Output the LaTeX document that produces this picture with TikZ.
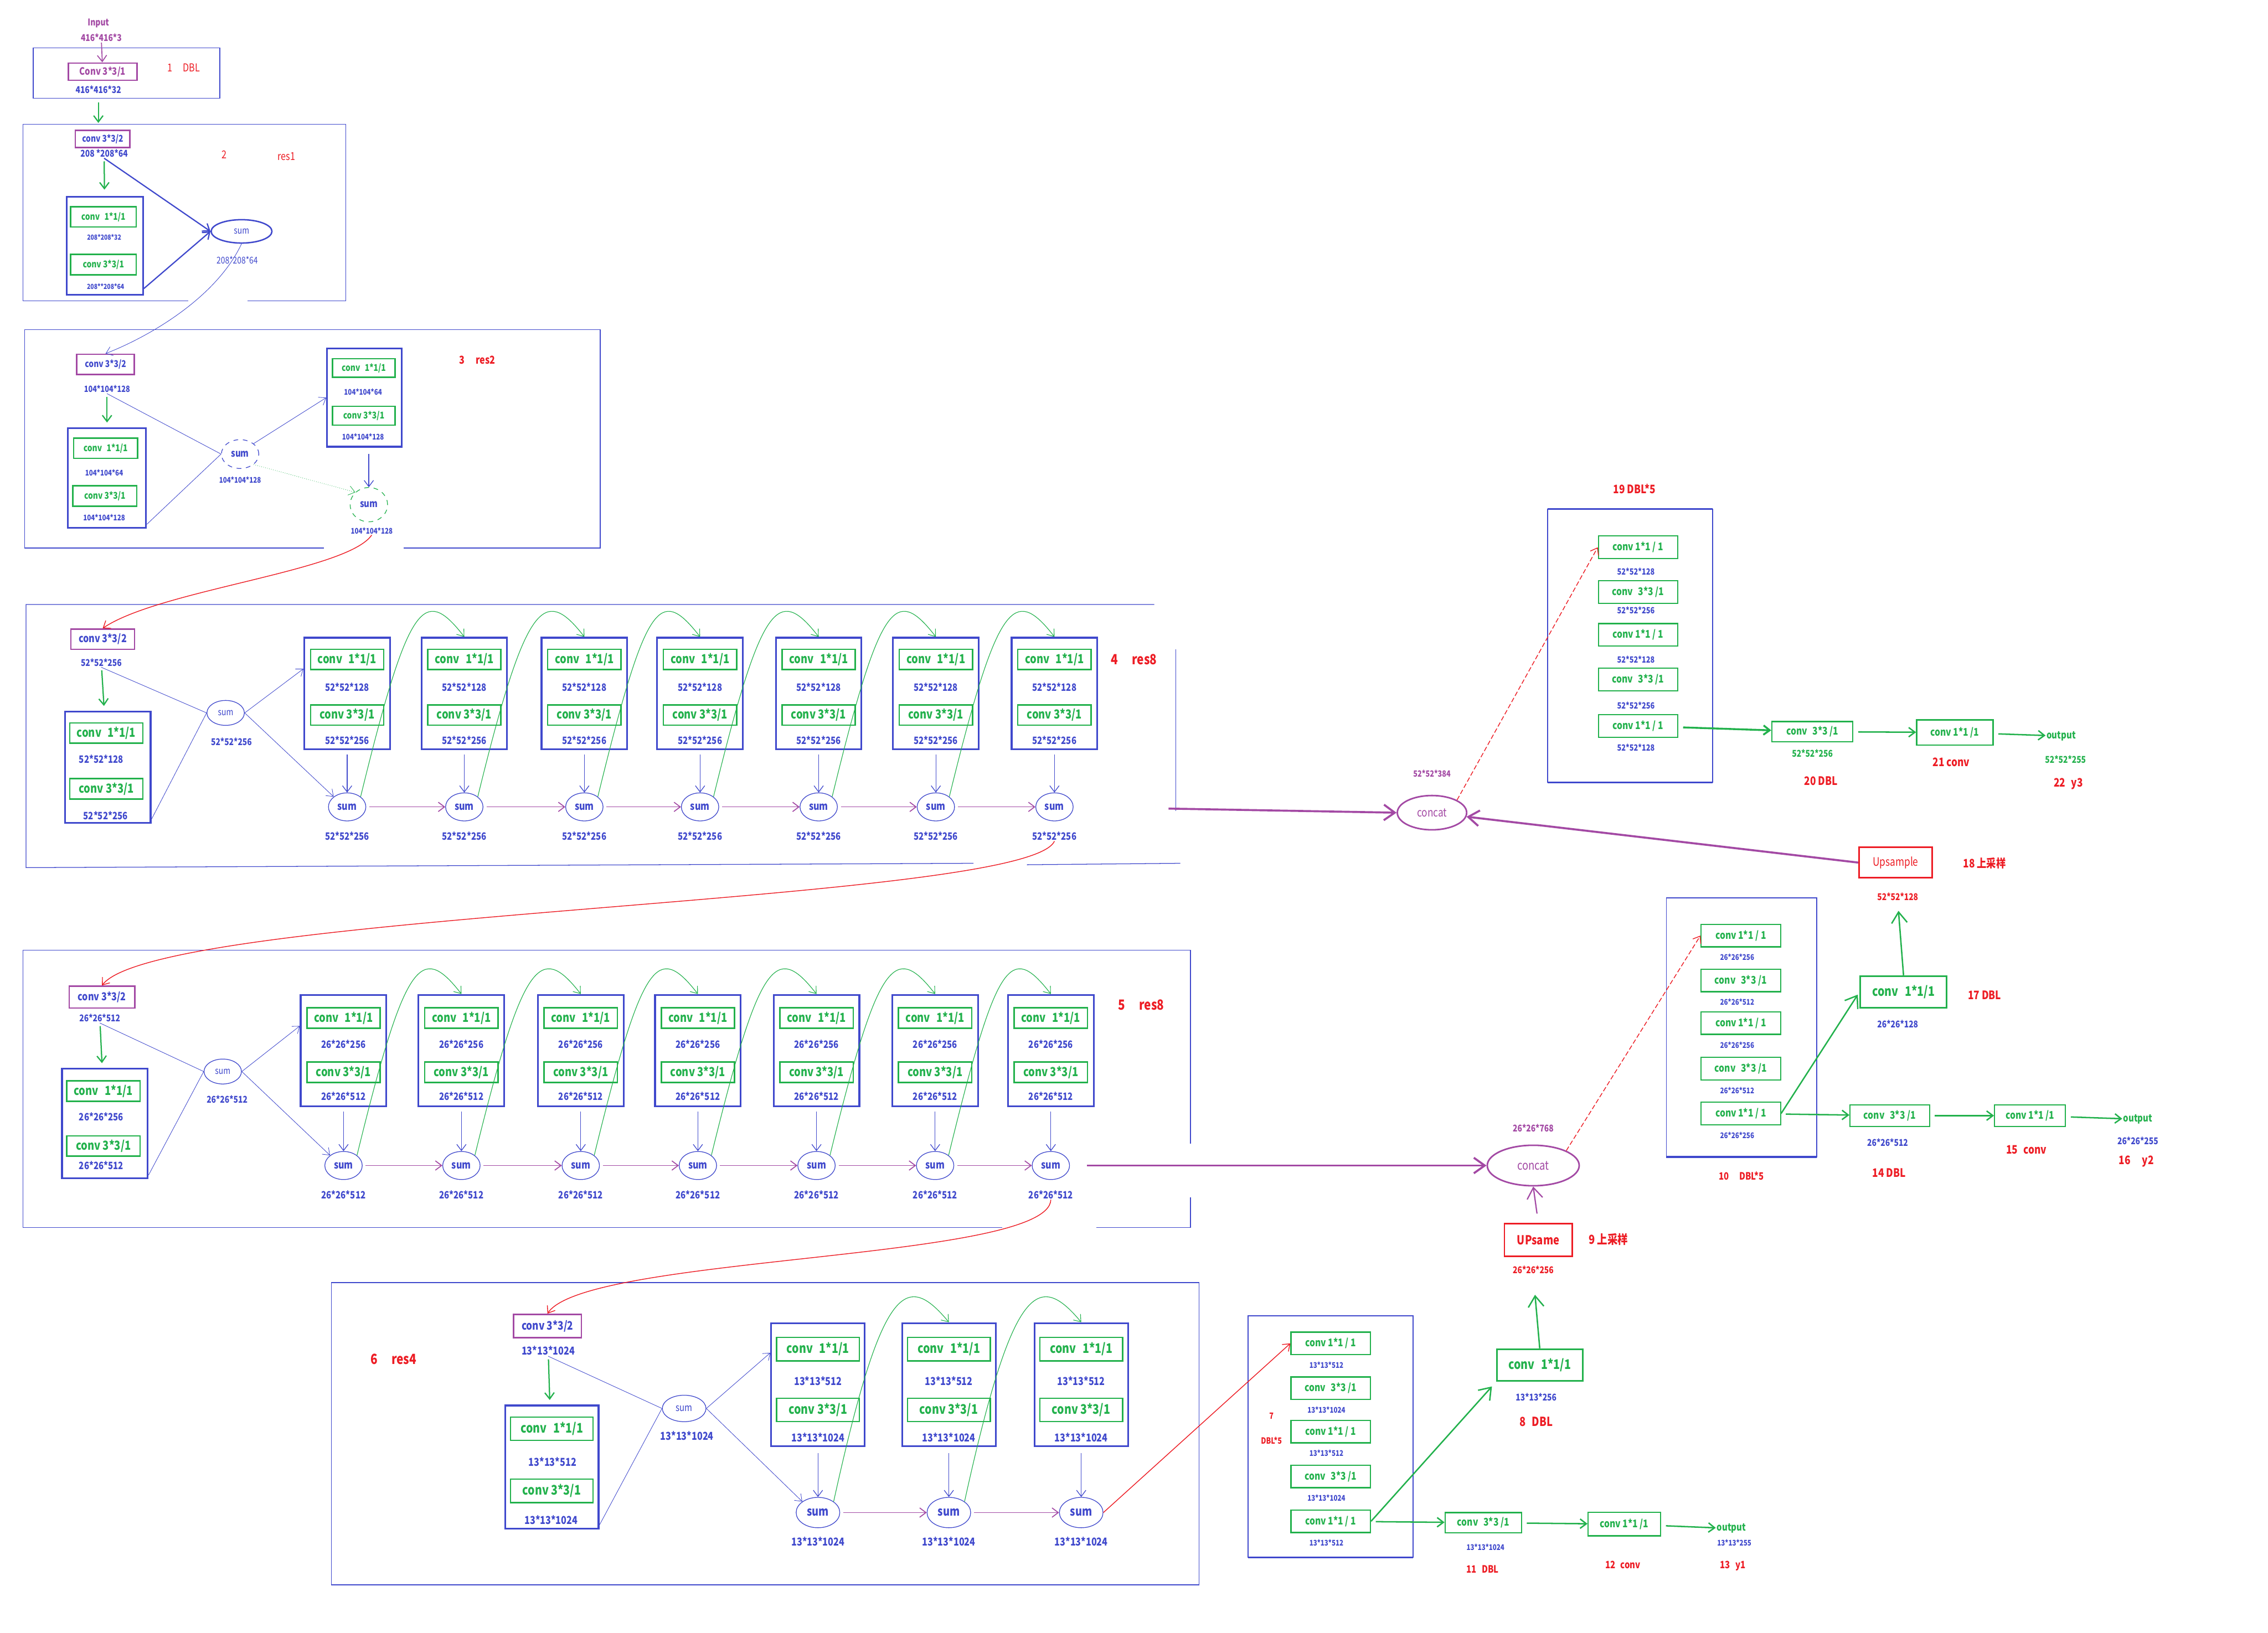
\documentclass[tikz,border=0pt]{standalone}
\usepackage{fontspec}
\setmainfont{Noto Sans CJK SC}[FakeStretch=0.82]
\usetikzlibrary{positioning,calc,arrows.meta,shapes.geometric}
\definecolor{PaintBlue}{RGB}{63,72,204}
\definecolor{PaintGreen}{RGB}{34,177,76}
\definecolor{PaintPurple}{RGB}{163,73,164}
\definecolor{PaintRed}{RGB}{237,28,36}
\tikzset{
  bsize/.style={font=\bfseries\fontsize{#1}{#1}\selectfont},
  rsize/.style={font=\fontsize{#1}{#1}\selectfont},
  groupframe/.style={draw=PaintBlue,line width=0.45pt},
  resunit/.style={draw=PaintBlue,line width=1.1pt,minimum width=55pt,minimum height=71.5pt},
  convbox/.style={draw=PaintGreen,line width=0.9pt,text=PaintGreen,inner sep=0pt,bsize=8,
    minimum width=47pt,minimum height=13pt},
  dblconv/.style={draw=PaintGreen,line width=0.8pt,text=PaintGreen,inner sep=0pt,bsize=6.8,
    minimum width=51pt,minimum height=14.5pt},
  downbox/.style={draw=PaintPurple,line width=0.9pt,text=PaintBlue,inner sep=0pt,bsize=7,
    minimum width=41pt,minimum height=13pt},
  upbox/.style={draw=PaintRed,line width=1pt,text=PaintRed,inner sep=0pt},
  sumnode/.style={ellipse,draw=PaintBlue,line width=0.45pt,text=PaintBlue,inner sep=0pt,
    bsize=7,minimum width=24pt,minimum height=17pt},
  catnode/.style={ellipse,draw=PaintPurple,line width=1pt,text=PaintPurple,inner sep=0pt,rsize=8},
  dimtxt/.style={text=PaintBlue,bsize=6.5,inner sep=0.5pt},
  tagtxt/.style={text=PaintRed,bsize=9,inner sep=0.5pt},
  barb/.style={-{Straight Barb[length=4pt,width=6pt]}},
  bigbarb/.style={-{Straight Barb[length=7pt,width=10pt]}},
  blueedge/.style={draw=PaintBlue,line width=0.45pt},
  greenedge/.style={draw=PaintGreen,line width=0.4pt},
  thickgreen/.style={draw=PaintGreen,line width=0.9pt},
  purpleedge/.style={draw=PaintPurple,line width=0.6pt},
  rededge/.style={draw=PaintRed,line width=0.5pt},
}

\begin{document}
\begin{tikzpicture}[x=0.03263cm,y=-0.03263cm]
\fill[white] (0,0) rectangle (1568,1129);
\useasboundingbox (0,0) rectangle (1568,1129);

% 1 DBL
\node[dimtxt,text=PaintPurple,bsize=6] (inname) at (68,16) {Input};
\node[dimtxt,text=PaintPurple,bsize=6] (insize) at (70,26) {416*416*3};
\draw[groupframe] (23,33) rectangle (152,68);
\node[downbox,text=PaintPurple,bsize=6.5,minimum width=44pt,minimum height=11pt] (conv1) at (71,49.5) {Conv 3*3/1};
\node[tagtxt,rsize=7] (tag1) at (127,47) {1\quad DBL};
\node[dimtxt,bsize=6] (dim1) at (68,62) {416*416*32};
\draw[purpleedge,barb] (insize) -- (conv1);
\coordinate (g1a) at (68,71);
\coordinate (g1b) at (68,85);
\draw[greenedge,line width=0.8pt,barb] (g1a) -- (g1b);

% 2 res1
\draw[groupframe] (130,208) -- (16,208) -- (16,86) -- (239,86) -- (239,208) -- (171,208);
\node[downbox,bsize=6,minimum width=35pt,minimum height=11pt] (conv2) at (71,96) {conv 3*3/2};
\node[dimtxt,bsize=6] (dim2) at (72,106) {208 *208*64};
\node[tagtxt,rsize=7] (tag2a) at (155,107) {2};
\node[tagtxt,rsize=7] (tag2b) at (198,108) {res1};
\node[resunit,minimum width=49pt,minimum height=63pt] (u2) at (72.5,170) {};
\node[convbox,bsize=6,minimum width=42pt] (u2a) at (71.5,150) {conv\enspace 1*1/1};
\node[dimtxt,bsize=4.5] (u2ad) at (72,164) {208*208*32};
\node[convbox,bsize=6,minimum width=42pt] (u2b) at (71.5,183) {conv 3*3/1};
\node[dimtxt,bsize=4.5] (u2bd) at (73,198) {208**208*64};
\node[sumnode,line width=0.9pt,rsize=6,minimum width=39pt,minimum height=15pt] (s2) at (167,160) {sum};
\node[dimtxt,rsize=6] (s2d) at (164,180) {208*208*64};
\draw[greenedge,line width=0.8pt,barb,shorten <=2pt,shorten >=4pt] (dim2) -- (u2);
\draw[blueedge,line width=0.8pt,barb] (dim2.south) -- (s2.west);
\draw[blueedge,line width=0.8pt,barb] ($(u2.south east)+(0,-5)$) -- (s2.west);

% 3 res2
\draw[groupframe] (224,379) -- (17,379) -- (17,228) -- (415,228) -- (415,379) -- (279,379);
\node[downbox,bsize=6,minimum width=37pt] (conv3) at (73,252) {conv 3*3/2};
\node[dimtxt,bsize=5.5] (dim3) at (74,269) {104*104*128};
\node[resunit,minimum width=50pt,minimum height=64pt] (u3) at (74,330.5) {};
\node[convbox,bsize=6,minimum width=41pt] (u3a) at (73,310) {conv\enspace 1*1/1};
\node[dimtxt,bsize=5] (u3ad) at (72,327) {104*104*64};
\node[convbox,bsize=6,minimum width=41pt] (u3b) at (72.5,343) {conv 3*3/1};
\node[dimtxt,bsize=5] (u3bd) at (72,358) {104*104*128};
\node[sumnode,dashed,bsize=6.5,minimum width=24pt,minimum height=18.5pt] (s3a) at (166,314) {sum};
\node[dimtxt,bsize=5] (s3ad) at (166,332) {104*104*128};
\node[resunit,minimum width=48pt,minimum height=63pt] (v3) at (252,275) {};
\node[convbox,bsize=6,minimum width=40pt,minimum height=12pt] (v3a) at (251.5,254.5) {conv\enspace 1*1/1};
\node[dimtxt,bsize=5] (v3ad) at (251,271) {104*104*64};
\node[convbox,bsize=6,minimum width=40pt,minimum height=12pt] (v3b) at (251.5,287.5) {conv 3*3/1};
\node[dimtxt,bsize=5] (v3bd) at (251,302) {104*104*128};
\node[sumnode,dashed,draw=PaintGreen,bsize=6.5,minimum width=24pt,minimum height=22pt] (s3b) at (255,349) {sum};
\node[dimtxt,bsize=5] (s3bd) at (257,367) {104*104*128};
\node[tagtxt,bsize=7] (tag3) at (330,249) {3\quad res2};
\draw[greenedge,line width=0.8pt,barb,shorten <=2pt,shorten >=3pt] (dim3) -- (u3);
\draw[blueedge,line width=0.3pt] (dim3.south) -- (s3a.west);
\draw[blueedge,line width=0.3pt] ($(u3.south east)+(0,-3)$) -- (s3a.west);
\draw[blueedge,line width=0.3pt,barb] (s3a.north east) -- (v3.west);
\draw[greenedge,line width=0.3pt,densely dotted,barb] (s3a.south east) -- (s3b.north west);
\draw[blueedge,barb,shorten <=4pt] (s3b.north |- v3.south) -- (s3b.north);
\draw[blueedge,line width=0.3pt,barb] (s2.south) .. controls (150,205) and (105,232) .. (conv3.north);

% 4 res8, 52*52
\draw[groupframe] (798,418) -- (18,418) -- (18,600) -- (673,597);
\draw[groupframe] (710,598) -- (816,597);
\draw[groupframe] (813,449) -- (813,561);
\node[downbox] (conv4) at (71,442) {conv 3*3/2};
\node[dimtxt,bsize=6] (dim4) at (70,458) {52*52*256};
\node[resunit] (u4) at (74.5,530.5) {};
\node[convbox] (u4a) at (73.5,507) {conv\enspace 1*1/1};
\node[dimtxt] (u4ad) at (70,525) {52*52*128};
\node[convbox] (u4b) at (73.5,545.5) {conv 3*3/1};
\node[dimtxt] (u4bd) at (73,564) {52*52*256};
\node[sumnode,rsize=6,minimum height=16pt] (s4-0) at (156,493) {sum};
\node[dimtxt,bsize=6] (d4-0) at (160,513) {52*52*256};
\node[tagtxt] (tag4) at (784,456) {4\quad res8};
\foreach \i/\x in {1/240,2/321,3/404,4/484,5/566,6/647,7/729}{
  \node[resunit] (b4-\i) at (\x,479.5) {};
  \node[convbox] (b4a-\i) at (\x,456) {conv\enspace 1*1/1};
  \node[dimtxt] (b4ad-\i) at (\x,475) {52*52*128};
  \node[convbox] (b4b-\i) at (\x,494.5) {conv 3*3/1};
  \node[dimtxt] (b4bd-\i) at (\x,512) {52*52*256};
  \node[sumnode,minimum height=18pt] (s4-\i) at (\x,558) {sum};
  \node[dimtxt] (d4-\i) at (\x,578) {52*52*256};
  \draw[blueedge,barb,shorten <=3pt] (b4-\i) -- (s4-\i);
}
\draw[greenedge,line width=0.8pt,barb,shorten <=2pt,shorten >=3pt] (dim4) -- (u4);
\draw[blueedge,line width=0.3pt] (dim4.south) -- (s4-0.west);
\draw[blueedge,line width=0.3pt] ($(u4.south east)+(0,-3)$) -- (s4-0.west);
\draw[blueedge,line width=0.3pt,barb] (s4-0.east) -- ($(b4-1.west)+(0,-17)$);
\draw[blueedge,line width=0.3pt,barb] (s4-0.east) -- (s4-1.north west);
\foreach \i [evaluate=\i as \j using int(\i+1)] in {1,...,6}{
  \draw[purpleedge,barb,shorten <=2pt] (s4-\i) -- (s4-\j);
  \draw[greenedge,barb] (s4-\i.north east) .. controls +(33,-135) and +(-28,-36) .. (b4-\j.north);
}

% 5 res8, 26*26
\draw[groupframe] (693,849) -- (16,849) -- (16,657) -- (823,657) -- (823,791);
\draw[groupframe] (823,828) -- (823,849) -- (758,849);
\node[downbox,minimum width=42pt,minimum height=14pt] (conv5) at (70.5,689.5) {conv 3*3/2};
\node[dimtxt,bsize=6] (dim5) at (69,704) {26*26*512};
\node[resunit,minimum height=70.5pt] (u5) at (72.5,777) {};
\node[convbox] (u5a) at (71.5,754.5) {conv\enspace 1*1/1};
\node[dimtxt] (u5ad) at (70,772) {26*26*256};
\node[convbox] (u5b) at (71.5,792.5) {conv 3*3/1};
\node[dimtxt] (u5bd) at (70,806) {26*26*512};
\node[sumnode,rsize=6,minimum height=16pt] (s5-0) at (154,741) {sum};
\node[dimtxt,bsize=6] (d5-0) at (157,760) {26*26*512};
\node[tagtxt] (tag5) at (789,695) {5\quad res8};
\foreach \i/\x in {1/237.5,2/319,3/401.5,4/482.5,5/564.5,6/646.5,7/726.5}{
  \node[resunit] (b5-\i) at (\x,726.5) {};
  \node[convbox] (b5a-\i) at (\x,704) {conv\enspace 1*1/1};
  \node[dimtxt] (b5ad-\i) at (\x,722) {26*26*256};
  \node[convbox] (b5b-\i) at (\x,741.5) {conv 3*3/1};
  \node[dimtxt] (b5bd-\i) at (\x,758) {26*26*512};
  \node[sumnode,minimum height=18pt] (s5-\i) at (\x,806) {sum};
  \node[dimtxt] (d5-\i) at (\x,826) {26*26*512};
  \draw[blueedge,barb,shorten <=3pt] (b5-\i) -- (s5-\i);
}
\draw[greenedge,line width=0.8pt,barb,shorten <=2pt,shorten >=3pt] (dim5) -- (u5);
\draw[blueedge,line width=0.3pt] (dim5.south) -- (s5-0.west);
\draw[blueedge,line width=0.3pt] ($(u5.south east)+(0,-3)$) -- (s5-0.west);
\draw[blueedge,line width=0.3pt,barb] (s5-0.east) -- ($(b5-1.west)+(0,-17)$);
\draw[blueedge,line width=0.3pt,barb] (s5-0.east) -- (s5-1.north west);
\foreach \i [evaluate=\i as \j using int(\i+1)] in {1,...,6}{
  \draw[purpleedge,barb,shorten <=2pt] (s5-\i) -- (s5-\j);
  \draw[greenedge,barb] (s5-\i.north east) .. controls +(33,-135) and +(-28,-36) .. (b5-\j.north);
}

% 6 res4, 13*13
\draw[groupframe] (229,887) rectangle (829,1096);
\node[tagtxt] (tag6) at (272,940) {6\quad res4};
\node[downbox,bsize=7.5,minimum width=43.5pt,minimum height=15pt] (conv6) at (378.5,917) {conv 3*3/2};
\node[dimtxt,bsize=7] (dim6) at (379,934) {13*13*1024};
\node[resunit,minimum width=60pt,minimum height=79pt] (u6) at (381.5,1014.5) {};
\node[convbox,bsize=8.5,minimum width=53pt,minimum height=15pt] (u6a) at (381.5,988) {conv\enspace 1*1/1};
\node[dimtxt,bsize=7] (u6ad) at (382,1011) {13*13*512};
\node[convbox,bsize=8.5,minimum width=53pt,minimum height=15pt] (u6b) at (381.5,1031) {conv 3*3/1};
\node[dimtxt,bsize=7] (u6bd) at (381,1051) {13*13*1024};
\node[sumnode,rsize=6.5,minimum width=28pt,minimum height=17pt] (s6-0) at (473,974) {sum};
\node[dimtxt,bsize=7] (d6-0) at (475,993) {13*13*1024};
\foreach \i/\x in {1/565.5,2/656,3/747.5}{
  \node[resunit,minimum width=60pt,minimum height=79pt] (b6-\i) at (\x,957.5) {};
  \node[convbox,bsize=8.5,minimum width=53pt,minimum height=15pt] (b6a-\i) at (\x,933) {conv\enspace 1*1/1};
  \node[dimtxt,bsize=7] (b6ad-\i) at (\x,955) {13*13*512};
  \node[convbox,bsize=8.5,minimum width=53pt,minimum height=15pt] (b6b-\i) at (\x,975) {conv 3*3/1};
  \node[dimtxt,bsize=7] (b6bd-\i) at (\x,994) {13*13*1024};
  \node[sumnode,bsize=8,minimum width=28pt,minimum height=19.5pt] (s6-\i) at (\x,1046) {sum};
  \node[dimtxt,bsize=7] (d6-\i) at (\x,1066) {13*13*1024};
  \draw[blueedge,barb,shorten <=4pt] (b6-\i) -- (s6-\i);
}
\draw[greenedge,line width=0.8pt,barb,shorten <=2pt,shorten >=3pt] (dim6) -- (u6);
\draw[blueedge,line width=0.3pt] (dim6.south) -- (s6-0.west);
\draw[blueedge,line width=0.3pt] ($(u6.south east)+(0,-3)$) -- (s6-0.west);
\draw[blueedge,line width=0.3pt,barb] (s6-0.east) -- ($(b6-1.west)+(0,-22)$);
\draw[blueedge,line width=0.3pt,barb] (s6-0.east) -- (s6-1.north west);
\foreach \i [evaluate=\i as \j using int(\i+1)] in {1,2}{
  \draw[purpleedge,barb,shorten <=2pt] (s6-\i) -- (s6-\j);
  \draw[greenedge,barb] (s6-\i.north east) .. controls +(33,-150) and +(-30,-36) .. (b6-\j.north);
}

% red links between the stages
\draw[rededge,barb] (s3bd.south) .. controls (240,395) and (110,408) .. (conv4.north);
\draw[rededge,barb] (d4-7.south) .. controls (710,625) and (110,630) .. (conv5.north);
\draw[rededge,barb] (d5-7.south) .. controls (725,872) and (405,868) .. (conv6.north);

% 7 DBL*5, 13*13
\draw[draw=PaintBlue,line width=0.7pt] (863,910) rectangle (977,1077);
\draw[draw=PaintBlue,line width=1.2pt] (863,1077) -- (977,1077);
\foreach \i/\y/\lbl/\dimv in {1/929/{conv 1*1 / 1}/{13*13*512},2/960/{conv\enspace 3*3 /1}/{13*13*1024},3/990/{conv 1*1 / 1}/{13*13*512},4/1021/{conv\enspace 3*3 /1}/{13*13*1024},5/1052/{conv 1*1 / 1}/{13*13*512}}{
  \node[dblconv] (k7-\i) at (920,\y) {\lbl};
  \node[dimtxt,bsize=5] (k7d-\i) at (917,\y+15) {\dimv};
}
\node[tagtxt,bsize=5.5] (tag7a) at (879,979) {7};
\node[tagtxt,bsize=5.5] (tag7b) at (879,996) {DBL*5};
\draw[rededge,barb] (s6-3.east) -- (k7-1.west);

% 11, 12, 13 y1
\node[dblconv,minimum width=49pt,minimum height=13pt] (k11) at (1025.5,1053) {conv\enspace 3*3 /1};
\node[dimtxt,bsize=5] (k11d) at (1027,1070) {13*13*1024};
\node[tagtxt,bsize=6.5] (tag11) at (1025,1085) {11\enspace DBL};
\node[dblconv,minimum width=46.5pt,minimum height=15pt] (k12) at (1123,1054) {conv 1*1 /1};
\node[tagtxt,bsize=6.5] (tag12) at (1122,1082) {12\enspace conv};
\node[text=PaintGreen,bsize=6.5,inner sep=0.5pt] (out13) at (1197,1057) {output};
\node[dimtxt,bsize=5] (out13d) at (1199,1067) {13*13*255};
\node[tagtxt,bsize=6.5] (tag13) at (1198,1083) {13\enspace y1};
\draw[thickgreen,barb,shorten <=3pt] (k7-5) -- (k11);
\draw[thickgreen,barb,shorten <=3pt] (k11) -- (k12);
\draw[thickgreen,barb,shorten <=3pt] (k12) -- (out13);

% 8 DBL and 9 upsample
\node[dblconv,bsize=8.5,minimum width=55pt,minimum height=20.5pt,line width=1pt] (k8) at (1064.5,944) {conv\enspace 1*1/1};
\node[dimtxt,bsize=6] (k8d) at (1062,966) {13*13*256};
\node[tagtxt,bsize=8] (tag8) at (1062,983) {8\enspace DBL};
\draw[thickgreen,bigbarb,shorten >=4pt] (k7-5.east) -- (k8.south west);
\node[upbox,bsize=8,minimum width=43.5pt,minimum height=21pt] (up9) at (1063.5,857.5) {UPsame};
\node[tagtxt,bsize=8] (tag9) at (1112,857) {9 上采样};
\node[dimtxt,text=PaintRed,bsize=6] (up9d) at (1060,878) {26*26*256};
\draw[thickgreen,bigbarb,shorten >=13pt] (k8.north) -- (up9d.south);

% concat 26*26
\node[catnode,minimum width=59pt,minimum height=26pt] (cat2) at (1060,806) {concat};
\node[dimtxt,text=PaintPurple,bsize=6] (cat2d) at (1060,780) {26*26*768};
\draw[purpleedge,line width=0.8pt,bigbarb,shorten <=6pt] (up9.north) -- (cat2.south);
\draw[purpleedge,line width=1.3pt,bigbarb,shorten <=11pt] (s5-7.east) -- (cat2.west);

% 10 DBL*5, 26*26
\draw[draw=PaintBlue,line width=0.6pt] (1152,621) rectangle (1256,800);
\draw[draw=PaintBlue,line width=1.2pt] (1152,800) -- (1256,800);
\foreach \i/\y/\lbl/\dimv in {1/647/{conv 1*1 / 1}/{26*26*256},2/678/{conv\enspace 3*3 /1}/{26*26*512},3/707.5/{conv 1*1 / 1}/{26*26*256},4/739/{conv\enspace 3*3 /1}/{26*26*512},5/770/{conv 1*1 / 1}/{26*26*256}}{
  \node[dblconv] (k10-\i) at (1203.5,\y) {\lbl};
  \node[dimtxt,bsize=5] (k10d-\i) at (1201,\y+15) {\dimv};
}
\node[tagtxt,bsize=6.5] (tag10) at (1204,813) {10\quad DBL*5};
\draw[rededge,dash pattern=on 3pt off 1.5pt,barb] (cat2.north east) -- (k10-1.west);

% 14, 15, 16 y2
\node[dblconv,minimum width=51pt,minimum height=14pt] (k14) at (1306.5,771.5) {conv\enspace 3*3 /1};
\node[dimtxt,bsize=6] (k14d) at (1305,790) {26*26*512};
\node[tagtxt,bsize=7.5] (tag14) at (1306,811) {14 DBL};
\node[dblconv,minimum width=45.5pt,minimum height=14pt] (k15) at (1403.5,771.5) {conv 1*1 /1};
\node[tagtxt,bsize=7.5] (tag15) at (1401,795) {15\enspace conv};
\node[text=PaintGreen,bsize=6.5,inner sep=0.5pt] (out16) at (1478,774) {output};
\node[dimtxt,bsize=6] (out16d) at (1478,789) {26*26*255};
\node[tagtxt,bsize=7.5] (tag16) at (1477,803) {16\quad y2};
\draw[thickgreen,barb,shorten <=3pt] (k10-5) -- (k14);
\draw[thickgreen,barb,shorten <=3pt] (k14) -- (k15);
\draw[thickgreen,barb,shorten <=3pt] (k15) -- (out16);

% 17 DBL and 18 upsample
\node[dblconv,bsize=8.5,minimum width=55.5pt,minimum height=20.5pt,line width=1pt] (k17) at (1316,686) {conv\enspace 1*1/1};
\node[dimtxt,bsize=6] (k17d) at (1312,708) {26*26*128};
\node[tagtxt,bsize=7.5] (tag17) at (1372,688) {17 DBL};
\draw[thickgreen,bigbarb,shorten >=2pt] (k10-5.east) -- (k17.west);
\node[upbox,rsize=7.5,minimum width=47pt,minimum height=19.5pt] (up18) at (1310.5,596.5) {Upsample};
\node[tagtxt,bsize=7.5] (tag18) at (1372,597) {18 上采样};
\node[dimtxt,text=PaintRed,bsize=6] (up18d) at (1312,620) {52*52*128};
\draw[thickgreen,bigbarb,shorten >=6pt] (k17.north) -- (up18d.south);

% concat 52*52
\node[catnode,minimum width=44.5pt,minimum height=22pt,rsize=7.5] (cat1) at (990,562) {concat};
\node[dimtxt,text=PaintPurple,bsize=5.5] (cat1d) at (990,535) {52*52*384};
\draw[purpleedge,line width=1.3pt,bigbarb,shorten <=61pt] (s4-7.east) -- (cat1.west);
\draw[purpleedge,line width=1.3pt,bigbarb] (up18.west) -- (cat1);

% 19 DBL*5, 52*52
\draw[draw=PaintBlue,line width=0.6pt] (1070,352) rectangle (1184,541);
\draw[draw=PaintBlue,line width=1.2pt] (1070,352) -- (1184,352);
\draw[draw=PaintBlue,line width=1.2pt] (1070,541) -- (1184,541);
\node[tagtxt,bsize=7.5] (tag19) at (1130,338) {19 DBL*5};
\foreach \i/\y/\lbl/\dimv/\dy in {1/378.5/{conv 1*1 / 1}/{52*52*128}/395,2/409.5/{conv\enspace 3*3 /1}/{52*52*256}/422,3/439/{conv 1*1 / 1}/{52*52*128}/456,4/470/{conv\enspace 3*3 /1}/{52*52*256}/488,5/502/{conv 1*1 / 1}/{52*52*128}/517}{
  \node[dblconv] (k19-\i) at (1132.5,\y) {\lbl};
  \node[dimtxt,bsize=5.5] (k19d-\i) at (1131,\dy) {\dimv};
}
\draw[rededge,dash pattern=on 3pt off 1.5pt,barb] (cat1.north east) -- (k19-1.west);

% 20, 21, 22 y3
\node[dblconv,minimum width=52pt,minimum height=13pt] (k20) at (1253,506) {conv\enspace 3*3 /1};
\node[dimtxt,text=PaintGreen,bsize=6] (k20d) at (1253,521) {52*52*256};
\node[tagtxt,bsize=7.5] (tag20) at (1259,540) {20 DBL};
\node[dblconv,minimum width=49pt,minimum height=16pt] (k21) at (1351.5,506.5) {conv 1*1 /1};
\node[tagtxt,bsize=7.5] (tag21) at (1349,527) {21 conv};
\node[text=PaintGreen,bsize=6.5,inner sep=0.5pt] (out22) at (1425,509) {output};
\node[dimtxt,text=PaintGreen,bsize=6] (out22d) at (1428,525) {52*52*255};
\node[tagtxt,bsize=7.5] (tag22) at (1430,542) {22\enspace y3};
\draw[thickgreen,line width=1.2pt,barb,shorten <=3pt] (k19-5) -- (k20);
\draw[thickgreen,barb,shorten <=3pt] (k20) -- (k21);
\draw[thickgreen,barb,shorten <=3pt] (k21) -- (out22);
\end{tikzpicture}
\end{document}
